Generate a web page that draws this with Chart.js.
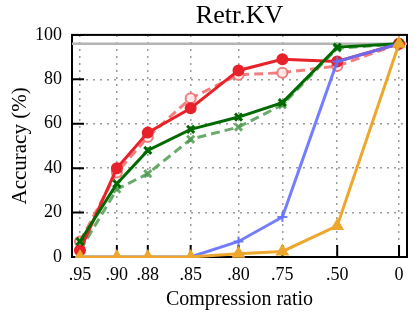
<!DOCTYPE html>
<html>
<head>
<meta charset="utf-8">
<script src="https://cdn.jsdelivr.net/npm/chart.js@4.4.1/dist/chart.umd.min.js"></script>
<style>
  html, body { margin: 0; padding: 0; background: #fff; }
</style>
</head>
<body>
<canvas id="chart" width="415" height="312"></canvas>
<script>
// Retr.KV accuracy vs compression ratio

const ratios = ['.95', '.90', '.88', '.85', '.80', '.75', '.50', '0'];
// the x axis is not evenly spaced, each ratio sits on its own slot of a 0..336 axis
const xSlots = [8, 45, 76, 119, 167, 211, 266, 328];
const yTicks = [0, 20, 40, 60, 80, 100];
const fullKV = 96;

const redSolid = [3, 40, 56, 67, 84, 89, 88, 96];
const redDashed = [7, 38, 54, 71.5, 82, 83, 86, 96];
const greenSolid = [7, 33, 48, 57.5, 63, 69.5, 94.5, 96];
const greenDashed = [3, 30.5, 37.5, 53, 58.5, 68.5, 94, 96];
const blueLine = [0, 0, 0, 0, 7, 18, 88, 96];
const orangeLine = [0, 0, 0, 0, 1.5, 2.5, 14, 96];

const FONT = "'Liberation Serif', 'DejaVu Serif', serif";

const pts = vals => vals.map((v, i) => ({ x: xSlots[i], y: v }));

function series(vals, color, extra) {
    return Object.assign({
        data: pts(vals),
        borderColor: color,
        backgroundColor: color,
        pointBorderColor: color,
        pointBackgroundColor: color,
        borderWidth: 3,
        pointRadius: 5,
        pointBorderWidth: 2,
        tension: 0,
        clip: false
    }, extra);
}

// black box round the plot with ticks pointing inward
const frame = {
    id: 'frame',
    beforeDatasetsDraw(chart) {
        const { ctx, chartArea: a, scales: { x, y } } = chart;
        ctx.save();
        ctx.strokeStyle = '#000';
        ctx.lineWidth = 2;
        ctx.strokeRect(a.left, a.top, a.right - a.left, a.bottom - a.top);
        ctx.beginPath();
        xSlots.forEach(v => {
            const px = x.getPixelForValue(v);
            ctx.moveTo(px, a.bottom);
            ctx.lineTo(px, a.bottom - 12);
        });
        yTicks.forEach(v => {
            const py = y.getPixelForValue(v);
            ctx.moveTo(a.left, py);
            ctx.lineTo(a.left + 12, py);
        });
        ctx.stroke();
        ctx.restore();
    }
};

const gridOpts = { color: '#9a9a9a', lineWidth: 1.5, drawTicks: false };
const borderOpts = { display: false, dash: [2, 5] };

new Chart(document.getElementById('chart'), {
    type: 'line',
    data: {
        datasets: [
            series(orangeLine, '#eca72c', { pointStyle: 'triangle', pointRadius: 6, order: 0, clip: 1 }),
            series(blueLine, 'rgba(100,112,255,0.9)', { pointStyle: 'cross', pointRadius: 5, order: 1, clip: 1 }),
            series(greenSolid, '#006a00', { pointStyle: 'crossRot', pointRadius: 5, pointBorderWidth: 3, order: 2 }),
            series(redSolid, '#e8222a', { pointStyle: 'circle', order: 3 }),
            series(greenDashed, 'rgba(80,155,80,0.85)', { pointStyle: 'crossRot', pointRadius: 5, pointBorderWidth: 3, borderDash: [9, 5], order: 4 }),
            series(redDashed, 'rgba(238,105,105,0.85)', { pointStyle: 'circle', pointBackgroundColor: 'rgba(255,235,235,0.9)', borderDash: [9, 5], order: 5 }),
            {
                data: [{ x: 0, y: fullKV }, { x: 336, y: fullKV }],
                borderColor: '#b4b4b4',
                borderWidth: 2.5,
                pointRadius: 0,
                order: 10
            }
        ]
    },
    options: {
        responsive: false,
        devicePixelRatio: 1,
        animation: false,
        layout: { padding: { right: 7, left: 0, top: 0, bottom: 0 } },
        plugins: {
            legend: { display: false },
            tooltip: { enabled: false },
            title: {
                display: true,
                text: 'Retr.KV',
                fullSize: false,
                color: '#000',
                font: { family: FONT, size: 26, weight: 'normal', lineHeight: 1.15 },
                padding: { top: 1, bottom: 4 }
            }
        },
        scales: {
            x: {
                type: 'linear',
                min: 0,
                max: 336,
                afterBuildTicks: s => { s.ticks = xSlots.map(v => ({ value: v })); },
                afterFit: s => { s.height = 55; },
                ticks: {
                    autoSkip: false,
                    maxRotation: 0,
                    padding: 7,
                    color: '#000',
                    font: { family: FONT, size: 18 },
                    callback: v => ratios[xSlots.indexOf(v)]
                },
                grid: gridOpts,
                border: borderOpts,
                title: {
                    display: true,
                    text: 'Compression ratio',
                    color: '#000',
                    font: { family: FONT, size: 20, lineHeight: 1.2 },
                    padding: { top: 0, bottom: 0 }
                }
            },
            y: {
                min: 0,
                max: 100,
                afterBuildTicks: s => { s.ticks = yTicks.map(v => ({ value: v })); },
                afterFit: s => { s.width = 72; },
                ticks: {
                    padding: 10,
                    color: '#000',
                    font: { family: FONT, size: 18 }
                },
                grid: gridOpts,
                border: borderOpts,
                title: {
                    display: true,
                    text: 'Accuracy (%)',
                    color: '#000',
                    font: { family: FONT, size: 21, lineHeight: 1.2 },
                    padding: { top: 8, bottom: 0 }
                }
            }
        }
    },
    plugins: [frame]
});
</script>
</body>
</html>
